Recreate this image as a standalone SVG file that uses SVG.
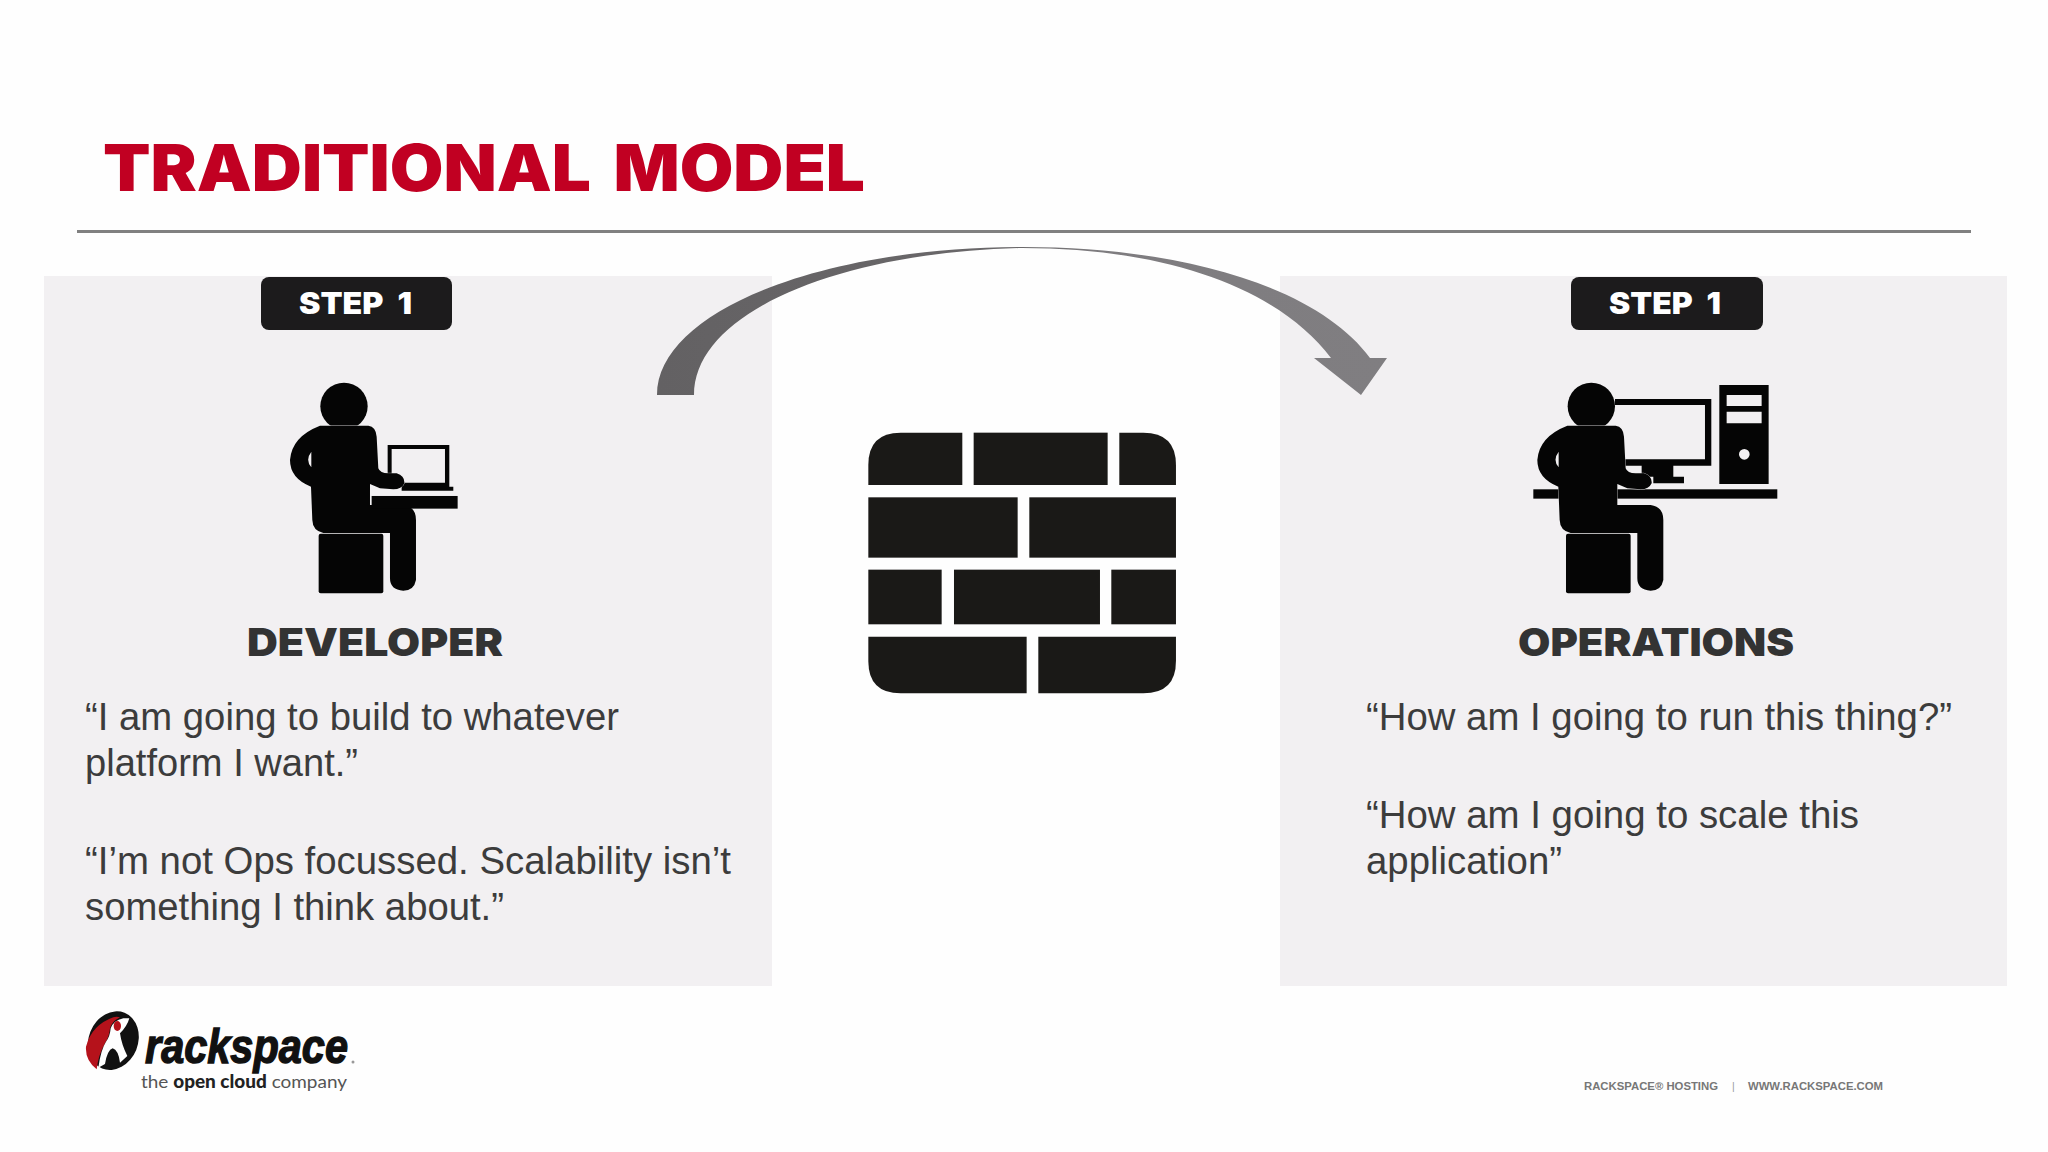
<svg xmlns="http://www.w3.org/2000/svg" width="2048" height="1152" viewBox="0 0 2048 1152">
<style>
.panel{fill:#f2f0f2}
.badge{fill:#1c1b1c}
.heavy{font-family:Inter,"Liberation Sans",sans-serif;font-weight:900}
.step{font-size:30px;fill:#fff;word-spacing:7px}
.role{font-size:38px;fill:#333}
.body{font-family:"Liberation Sans",Arial,sans-serif;font-size:38px;fill:#3c3c3c}
.foot{font-family:"Liberation Sans",Arial,sans-serif;font-size:10.5px;font-weight:700;fill:#777}
.ink{fill:#050505;stroke:#f2f0f2;stroke-width:2;paint-order:stroke}
.brick{fill:#1a1917}
</style>
<defs>
<linearGradient id="arc" gradientUnits="userSpaceOnUse" x1="657" y1="0" x2="1387" y2="0">
<stop offset="0" stop-color="#636163"/><stop offset="0.5" stop-color="#6a686a"/><stop offset="0.6" stop-color="#7e7c7f"/><stop offset="1" stop-color="#807e81"/>
</linearGradient>
<g id="person">
<circle cx="312" cy="439" r="71" fill="#050505"/>
<path class="ink" d="M240 497L385 497Q408 500 410 530L415 625Q420 640 445 640L470 640Q495 648 493 670Q485 688 460 688L420 685L390 672L390 735L490 735Q528 740 528 780L528 960Q522 992 490 992Q450 990 450 955L450 819L250 819Q218 812 217 780L213 680Q150 655 150 600Q155 530 240 497ZM214 575Q195 600 214 622Z" fill-rule="evenodd"/>
<rect x="236" y="821" width="194" height="179" rx="6" fill="#050505"/>
</g>
</defs>
<rect width="2048" height="1152" fill="#fefefe"/>
<text class="heavy" x="103" y="191" font-size="64" fill="#c10022" word-spacing="8" textLength="762" lengthAdjust="spacingAndGlyphs">TRADITIONAL MODEL</text>
<rect x="77" y="230" width="1894" height="3" fill="#808080"/>
<rect class="panel" x="44" y="276" width="728" height="710"/>
<rect class="panel" x="1280" y="276" width="727" height="710"/>

<g id="connectors">
<path id="handoff-arrow" fill="url(#arc)" d="M657 395C657 312 820 247 1022 247C1190 247 1320 290 1370 358L1387 358L1361 395L1314 358L1331 358C1280 290 1170 248 1022 248C840 252 694 312 694 395Z"/>
</g>

<g id="developer">
<rect class="badge" x="261" y="277" width="191" height="53" rx="8"/>
<text class="heavy step" x="299" y="314" textLength="113" lengthAdjust="spacingAndGlyphs">STEP 1</text>
<g transform="translate(240 260) scale(0.3333)">
<path fill="#050505" fill-rule="evenodd" d="M443 555H628V680H640V692H485V680H443ZM455 567V668H615V567Z"/>
<use href="#person"/>
<rect x="395" y="708" width="258" height="38" fill="#050505"/>
</g>
<text class="heavy role" x="247" y="656" textLength="256" lengthAdjust="spacingAndGlyphs">DEVELOPER</text>
<text class="body" x="85" y="730" textLength="534" lengthAdjust="spacingAndGlyphs">“I am going to build to whatever</text>
<text class="body" x="85" y="776" textLength="273" lengthAdjust="spacingAndGlyphs">platform I want.”</text>
<text class="body" x="85" y="874" textLength="646" lengthAdjust="spacingAndGlyphs">“I’m not Ops focussed. Scalability isn’t</text>
<text class="body" x="85" y="920" textLength="419" lengthAdjust="spacingAndGlyphs">something I think about.”</text>
</g>

<g id="firewall">
<g transform="translate(850 420) scale(0.3333)">
<path class="brick" d="M55 195V135Q55 38 152 38H337V195Z"/>
<rect class="brick" x="371" y="38" width="402" height="157"/>
<path class="brick" d="M808 38H880Q978 38 978 135V195H808Z"/>
<rect class="brick" x="55" y="232" width="448" height="181"/>
<rect class="brick" x="538" y="232" width="440" height="181"/>
<rect class="brick" x="55" y="449" width="220" height="164"/>
<rect class="brick" x="312" y="449" width="438" height="164"/>
<rect class="brick" x="784" y="449" width="194" height="164"/>
<path class="brick" d="M55 650H530V820H152Q55 820 55 723Z"/>
<path class="brick" d="M565 650H978V723Q978 820 880 820H565Z"/>
</g>
</g>

<g id="operations">
<rect class="badge" x="1571" y="277" width="192" height="53" rx="8"/>
<text class="heavy step" x="1609" y="314" textLength="112" lengthAdjust="spacingAndGlyphs">STEP 1</text>
<g transform="translate(1500 260) scale(0.3333)">
<rect x="100" y="688" width="732" height="28" fill="#050505"/>
<path fill="#050505" d="M345 417H634V617H520V650H552V670H460V650H425V617H375V598H615V435H345Z"/>
<path fill="#050505" fill-rule="evenodd" d="M658 375H806V672H658ZM680 405V438H785V405ZM680 455V490H785V455ZM749 583A16 16 0 1 0 717 583A16 16 0 1 0 749 583Z"/>
<use href="#person" x="-38"/>
</g>
<text class="heavy role" x="1518" y="656" textLength="276" lengthAdjust="spacingAndGlyphs">OPERATIONS</text>
<text class="body" x="1366" y="730" textLength="586" lengthAdjust="spacingAndGlyphs">“How am I going to run this thing?”</text>
<text class="body" x="1366" y="828" textLength="493" lengthAdjust="spacingAndGlyphs">“How am I going to scale this</text>
<text class="body" x="1366" y="874" textLength="196" lengthAdjust="spacingAndGlyphs">application”</text>
</g>

<g id="logo">
<g transform="translate(70 1000) scale(0.3333)">
<ellipse cx="130" cy="122" rx="74" ry="90" transform="rotate(22 130 122)" fill="#111"/>
<path fill="#b5121b" d="M130 52Q65 75 48 140Q45 180 80 208Q85 165 105 130Q118 110 120 85Q125 65 150 52Q140 48 130 52Z"/>
<path fill="#fefefe" d="M85 203Q92 150 108 125Q120 110 122 85Q130 62 160 55L178 55Q172 78 150 100Q155 135 172 168L150 188Q145 150 128 145Q112 150 105 192Z"/>
<ellipse cx="142" cy="78" rx="11" ry="15" fill="#b5121b"/>
</g>
<text x="145" y="1063" font-family="'Liberation Sans',Arial,sans-serif" font-size="48" font-weight="700" font-style="italic" fill="#111" textLength="203" lengthAdjust="spacingAndGlyphs" stroke="#111" stroke-width="1.4">rackspace</text>
<circle cx="353" cy="1062" r="1.5" fill="#999"/>
<text x="141" y="1088" font-family="Lato,'Liberation Sans',sans-serif" font-size="18" fill="#555" textLength="206" lengthAdjust="spacingAndGlyphs">the <tspan font-weight="900" fill="#222">open cloud</tspan> company</text>
</g>

<g id="footer">
<text class="foot" x="1584" y="1090" textLength="134" lengthAdjust="spacingAndGlyphs">RACKSPACE® HOSTING</text>
<text class="foot" x="1732" y="1090" style="fill:#999;font-weight:400">|</text>
<text class="foot" x="1748" y="1090" textLength="135" lengthAdjust="spacingAndGlyphs">WWW.RACKSPACE.COM</text>
</g>
</svg>
